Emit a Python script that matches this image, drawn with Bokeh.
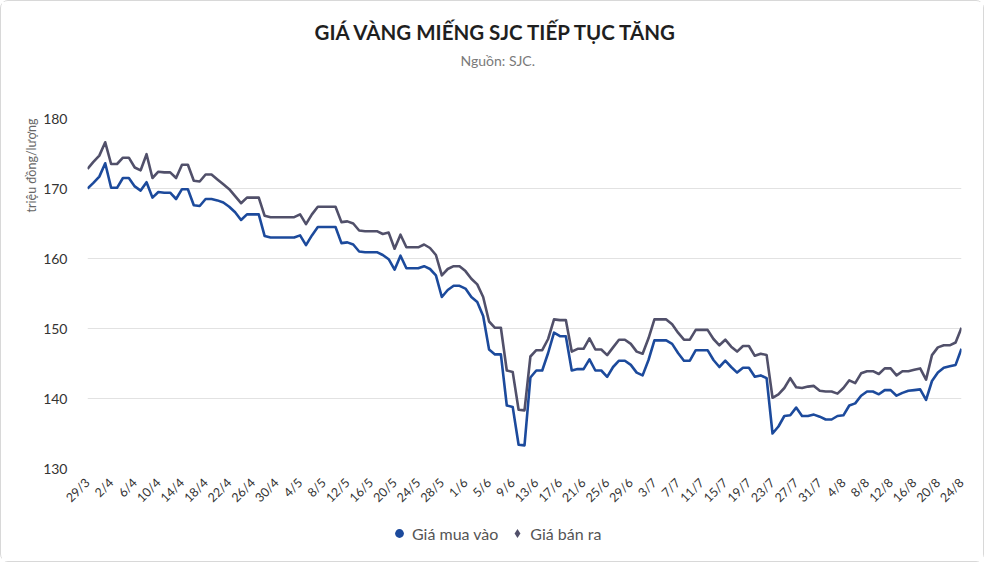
import math
from bokeh.plotting import figure
from bokeh.layouts import column
from bokeh.models import ColumnDataSource, FixedTicker, Title, Legend, LegendItem
from bokeh.embed import file_html
from bokeh.resources import INLINE

# nhãn trục x (mỗi 4 ngày, từ 29/3 đến 24/8)
tick_labels = ["29/3", "2/4", "6/4", "10/4", "14/4", "18/4", "22/4", "26/4", "30/4",
               "4/5", "8/5", "12/5", "16/5", "20/5", "24/5", "28/5", "1/6", "5/6",
               "9/6", "13/6", "17/6", "21/6", "25/6", "29/6", "3/7", "7/7", "11/7",
               "15/7", "19/7", "23/7", "27/7", "31/7", "4/8", "8/8", "12/8", "16/8",
               "20/8", "24/8"]

# Giá mua vào, triệu đồng/lượng, theo ngày
buy = [170.0, 170.8, 171.7, 173.6, 170.1, 170.1, 171.5, 171.5, 170.3, 169.7,
       170.9, 168.7, 169.5, 169.4, 169.4, 168.5, 169.9, 169.9, 167.6, 167.5,
       168.5, 168.5, 168.3, 168.0, 167.4, 166.6, 165.5, 166.3, 166.3, 166.3,
       163.2, 163.0, 163.0, 163.0, 163.0, 163.0, 163.3, 161.9, 163.3, 164.5,
       164.5, 164.5, 164.5, 162.2, 162.3, 162.0, 161.0, 160.9, 160.9, 160.9,
       160.5, 159.9, 158.4, 160.4, 158.6, 158.6, 158.6, 158.9, 158.5, 157.6,
       154.5, 155.5, 156.1, 156.1, 155.7, 154.5, 153.8, 151.8, 147.0, 146.3,
       146.3, 139.0, 138.8, 133.4, 133.3, 143.0, 144.0, 144.0, 146.5, 149.4,
       148.9, 148.9, 144.0, 144.2, 144.2, 145.6, 144.0, 144.0, 143.1, 144.5,
       145.4, 145.4, 144.8, 143.7, 143.3, 145.5, 148.3, 148.3, 148.3, 147.8,
       146.5, 145.4, 145.4, 146.9, 146.9, 146.9, 145.5, 144.5, 145.4, 144.5,
       143.7, 144.4, 144.4, 143.1, 143.3, 142.9, 135.0, 136.0, 137.5, 137.6,
       138.7, 137.5, 137.5, 137.7, 137.4, 137.0, 137.0, 137.5, 137.6, 139.0,
       139.3, 140.4, 141.0, 141.0, 140.6, 141.2, 141.2, 140.4, 140.8, 141.1,
       141.2, 141.3, 139.8, 142.5, 143.7, 144.4, 144.6, 144.8, 147.1]

# Giá bán ra
sell = [172.8, 173.8, 174.7, 176.6, 173.5, 173.5, 174.4, 174.4, 173.0, 172.6,
        174.9, 171.5, 172.4, 172.3, 172.3, 171.5, 173.4, 173.4, 171.1, 171.0,
        172.0, 172.0, 171.3, 170.6, 169.9, 168.9, 167.9, 168.7, 168.7, 168.7,
        166.1, 165.9, 165.9, 165.9, 165.9, 165.9, 166.3, 164.9, 166.3, 167.4,
        167.4, 167.4, 167.4, 165.2, 165.3, 165.0, 164.0, 163.9, 163.9, 163.9,
        163.5, 163.7, 161.4, 163.4, 161.6, 161.6, 161.6, 162.0, 161.5, 160.5,
        157.6, 158.5, 158.9, 158.9, 158.2, 157.1, 156.3, 154.5, 151.0, 150.1,
        150.1, 144.0, 143.8, 138.4, 138.3, 146.0, 146.9, 146.9, 148.5, 151.3,
        151.2, 151.2, 146.7, 147.1, 147.1, 148.6, 147.0, 147.0, 146.2, 147.3,
        148.4, 148.4, 147.8, 146.7, 146.4, 148.6, 151.3, 151.3, 151.3, 150.6,
        149.4, 148.4, 148.4, 149.8, 149.8, 149.8, 148.5, 147.6, 148.4, 147.4,
        146.7, 147.5, 147.5, 146.1, 146.4, 146.2, 140.1, 140.6, 141.5, 142.9,
        141.6, 141.5, 141.7, 141.8, 141.1, 141.0, 141.0, 140.7, 141.5, 142.6,
        142.2, 143.6, 143.9, 143.9, 143.5, 144.3, 144.3, 143.3, 143.9, 143.9,
        144.1, 144.3, 142.7, 146.2, 147.3, 147.6, 147.6, 148.0, 150.1]

y_ticks = [130, 140, 150, 160, 170, 180]

FONT = "Lato"
BUY_COLOR = "#1c4a9c"
SELL_COLOR = "#51506a"

days = list(range(len(buy)))
source = ColumnDataSource(data={"day": days, "buy": buy, "sell": sell})

p = figure(width=982, height=514, x_range=(0, len(buy) - 1), y_range=(130, 180),
           output_backend="svg", toolbar_location=None, tools="", title=None,
           min_border_left=86, min_border_right=22, min_border_top=117,
           min_border_bottom=47)
p.outline_line_color = None
p.background_fill_color = "white"
p.border_fill_color = "white"

p.line("day", "buy", source=source, line_width=2.6, color=BUY_COLOR, line_join="round")
p.line("day", "sell", source=source, line_width=2.6, color=SELL_COLOR, line_join="round")

# truc x
p.xaxis.ticker = FixedTicker(ticks=list(range(0, len(buy), 4)))
p.xaxis.major_label_overrides = {i * 4: lab for i, lab in enumerate(tick_labels)}
p.xaxis.major_label_orientation = math.pi / 4
p.xaxis.major_label_text_font = FONT
p.xaxis.major_label_text_font_size = "12.5px"
p.xaxis.major_label_text_color = "#333333"
p.xaxis.major_label_standoff = 6
p.xaxis.axis_line_color = None
p.xaxis.major_tick_line_color = None
p.xaxis.minor_tick_line_color = None
p.xgrid.grid_line_color = None

# truc y
p.yaxis.ticker = FixedTicker(ticks=y_ticks)
p.yaxis.major_label_text_font = FONT
p.yaxis.major_label_text_font_size = "14px"
p.yaxis.major_label_text_color = "#333333"
p.yaxis.major_label_standoff = 14
p.yaxis.axis_line_color = None
p.yaxis.major_tick_line_color = None
p.yaxis.minor_tick_line_color = None
p.ygrid.grid_line_color = "#e2e2e2"
p.ygrid.grid_line_width = 1

# tieu de (xep tu khung ra ngoai: khoang trong, nguon, tieu de)
# can giua theo toan hinh, khong theo khung ve -> align left + offset
p.add_layout(Title(text=" ", text_font_size="1px", standoff=43), "above")
p.add_layout(Title(text="Nguồn: SJC.", align="left", offset=373, text_font=FONT,
                   text_font_size="14px", text_font_style="normal",
                   text_color="#7a7a7a", standoff=8), "above")
p.add_layout(Title(text="GIÁ VÀNG MIẾNG SJC TIẾP TỤC TĂNG", align="left", offset=227,
                   text_font=FONT, text_font_size="20.5px", text_font_style="bold",
                   text_color="#1f1f1f", standoff=4), "above")
p.add_layout(Title(text="triệu đồng/lượng", align="right", text_font=FONT,
                   text_font_size="12.5px", text_font_style="normal",
                   text_color="#666666", standoff=4), "left")

# chu giai: hinh rieng ben duoi, marker size 0 chi hien trong chu giai
lf = figure(width=982, height=46, output_backend="svg", toolbar_location=None,
            tools="", x_axis_type=None, y_axis_type=None, min_border=0)
lf.outline_line_color = None
r_buy = lf.scatter("day", "buy", source=source, size=0, marker="circle",
                   fill_color=BUY_COLOR, line_color=None)
r_sell = lf.scatter("day", "sell", source=source, size=0, marker="diamond",
                    fill_color=SELL_COLOR, line_color=None)
legend = Legend(items=[LegendItem(label="Giá mua vào", renderers=[r_buy]),
                       LegendItem(label="Giá bán ra", renderers=[r_sell])],
                location=(301, 17), orientation="horizontal",
                label_text_font=FONT, label_text_font_size="16px",
                label_text_color="#555555", glyph_width=22, glyph_height=22,
                label_standoff=2, spacing=8, padding=4, margin=0,
                border_line_color=None, background_fill_alpha=0)
lf.add_layout(legend, "center")

page = column(p, lf, spacing=0,
              styles={"border": "1px solid #d8d8d8", "border-radius": "8px"})

open("out.html", "w").write(file_html(page, INLINE))
